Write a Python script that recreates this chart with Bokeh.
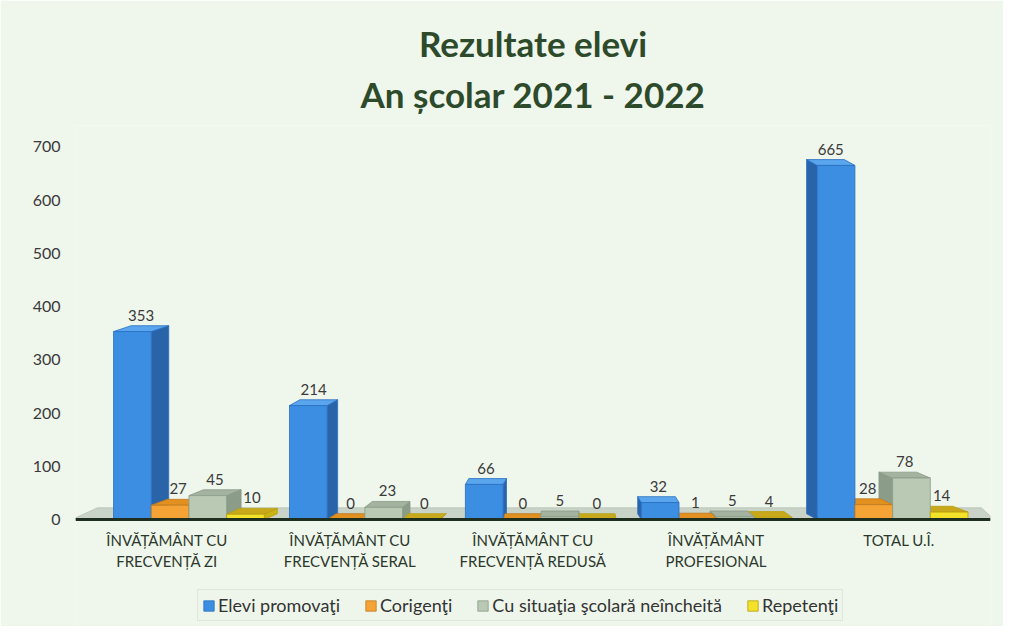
from bokeh.plotting import figure
from bokeh.models import ColumnDataSource, FixedTicker, Legend, Title
from bokeh.core.properties import value
from bokeh.embed import file_html
from bokeh.resources import INLINE

# ---------------- data ----------------
categories = [
    "ÎNVĂȚĂMÂNT CU\nFRECVENȚĂ ZI",
    "ÎNVĂȚĂMÂNT CU\nFRECVENȚĂ SERAL",
    "ÎNVĂȚĂMÂNT CU\nFRECVENȚĂ REDUSĂ",
    "ÎNVĂȚĂMÂNT\nPROFESIONAL",
    "TOTAL U.Î.",
]
series_names = ["Elevi promovaţi", "Corigenţi", "Cu situaţia şcolară neîncheită", "Repetenţi"]
promovati = [353, 214, 66, 32, 665]
corigenti = [27, 0, 0, 1, 28]
neincheiata = [45, 23, 5, 5, 78]
repetenti = [10, 0, 0, 4, 14]
y_ticks = [0, 100, 200, 300, 400, 500, 600, 700]

series_values = [promovati, corigenti, neincheiata, repetenti]

# ---------------- style ----------------
front_colors = ["#3b8ee2", "#f5a334", "#b9c9b3", "#f3e12a"]
side_colors = ["#2a64a8", "#cf7a1c", "#8b9c88", "#c9b414"]
top_colors = ["#5aa6ee", "#e2901f", "#a3b39f", "#c9a91c"]
edge_colors = ["#2a6fc0", "#c07a20", "#8a9a88", "#b8a010"]

BAR_W = 0.206
VP_SHIFT, K_SHIFT = 3.6, 0.0387
VP_DEPTH, K_DEPTH = 2.7, 0.04
DY = 11.0
BG = "#eff6ec"

p = figure(
    frame_width=915, frame_height=501,
    x_range=(0, 5), y_range=(-200.8, 740),
    output_backend="svg", toolbar_location=None,
    min_border_left=75, min_border_right=13, min_border_top=125, min_border_bottom=0,
    background_fill_color=BG, border_fill_color=BG,
    outline_line_color=None,
)
p.xgrid.grid_line_color = None
p.ygrid.grid_line_color = None

title2 = Title(text="An școlar 2021 - 2022", align="center", offset=-14,
               text_font="Lato", text_font_size="35px", text_font_style="bold",
               text_color="#2d4a2b", standoff=22)
title1 = Title(text="Rezultate elevi", align="center", offset=-14,
               text_font="Lato", text_font_size="35px", text_font_style="bold",
               text_color="#2d4a2b", standoff=-9)
p.add_layout(title2, "above")
p.add_layout(title1, "above")

# floor
p.patch(x=[-0.02, 5.02, 4.95, 0.12], y=[0, 0, 2 * DY, 2 * DY],
        fill_color="#c9d3c7", line_color="#b5c0b3", line_width=0.8)

# bar geometry (side + top faces as patches, fronts as vbars)
centers = [[0.0] * len(categories) for _ in series_values]
bars = []
for i in range(len(categories)):
    c = i + 0.5
    shift = K_SHIFT * (VP_SHIFT - c)
    for j in range(len(series_values)):
        v = series_values[j][i]
        bc = c + shift + (j - 1.5) * BAR_W
        centers[j][i] = bc
        dx = K_DEPTH * (VP_DEPTH - bc)
        bars.append((abs(bc - VP_DEPTH), bc, dx, v, j))
bars.sort(key=lambda b: -b[0])

xs, ys, fills, lines = [], [], [], []
lx, ly, lt = [], [], []
for _, bc, dx, v, j in bars:
    x0, x1 = bc - BAR_W / 2, bc + BAR_W / 2
    xe = x1 if dx > 0 else x0
    xs.append([xe, xe + dx, xe + dx, xe]); ys.append([0, DY, v + DY, v])
    fills.append(side_colors[j]); lines.append(edge_colors[j])
    xs.append([x0, x1, x1 + dx, x0 + dx]); ys.append([v, v, v + DY, v + DY])
    fills.append(top_colors[j]); lines.append(edge_colors[j])
    lx.append(bc + dx / 2); ly.append(v + DY); lt.append(str(v))

src = ColumnDataSource(dict(xs=xs, ys=ys, fill=fills, line=lines))
p.patches("xs", "ys", source=src, fill_color="fill", line_color="line", line_width=0.8)

legend_items = []
for j, name in enumerate(series_names):
    r = p.vbar(x=centers[j], top=series_values[j], bottom=0, width=BAR_W,
               fill_color=front_colors[j], line_color=edge_colors[j], line_width=0.8)
    legend_items.append((name, [r]))

lsrc = ColumnDataSource(dict(x=lx, y=ly, t=lt))
p.text("x", "y", text="t", source=lsrc, text_align="center", text_baseline="bottom",
       y_offset=-5, text_font=value("Lato"), text_font_size="15px", text_color="#3a3a3a")

# axes
p.yaxis.ticker = FixedTicker(ticks=y_ticks)
p.yaxis.axis_line_color = None
p.yaxis.major_tick_line_color = None
p.yaxis.minor_tick_line_color = None
p.yaxis.major_label_text_font = "Lato"
p.yaxis.major_label_text_font_size = "16px"
p.yaxis.major_label_text_color = "#3a3a3a"
p.yaxis.major_label_standoff = 9

p.xaxis.fixed_location = 0
p.xaxis.ticker = FixedTicker(ticks=[i + 0.5 for i in range(len(categories))])
p.xaxis.major_label_overrides = {i + 0.5: categories[i] for i in range(len(categories))}
p.xaxis.axis_line_color = "#1f2f1f"
p.xaxis.axis_line_width = 3
p.xaxis.major_tick_line_color = None
p.xaxis.minor_tick_line_color = None
p.xaxis.major_label_text_font = "Lato"
p.xaxis.major_label_text_font_size = "15px"
p.xaxis.major_label_text_color = "#2c382c"
p.xaxis.major_label_standoff = 5

legend = Legend(items=legend_items, orientation="horizontal", location=(122, 5),
                label_text_font="Lato", label_text_font_size="18px", label_text_color="#333333",
                glyph_width=13, glyph_height=13, spacing=24, label_standoff=3,
                border_line_color="#cfd8cd", background_fill_color="#edf5eb",
                padding=4, margin=0)
p.add_layout(legend)

open("out.html", "w").write(file_html(p, INLINE))
